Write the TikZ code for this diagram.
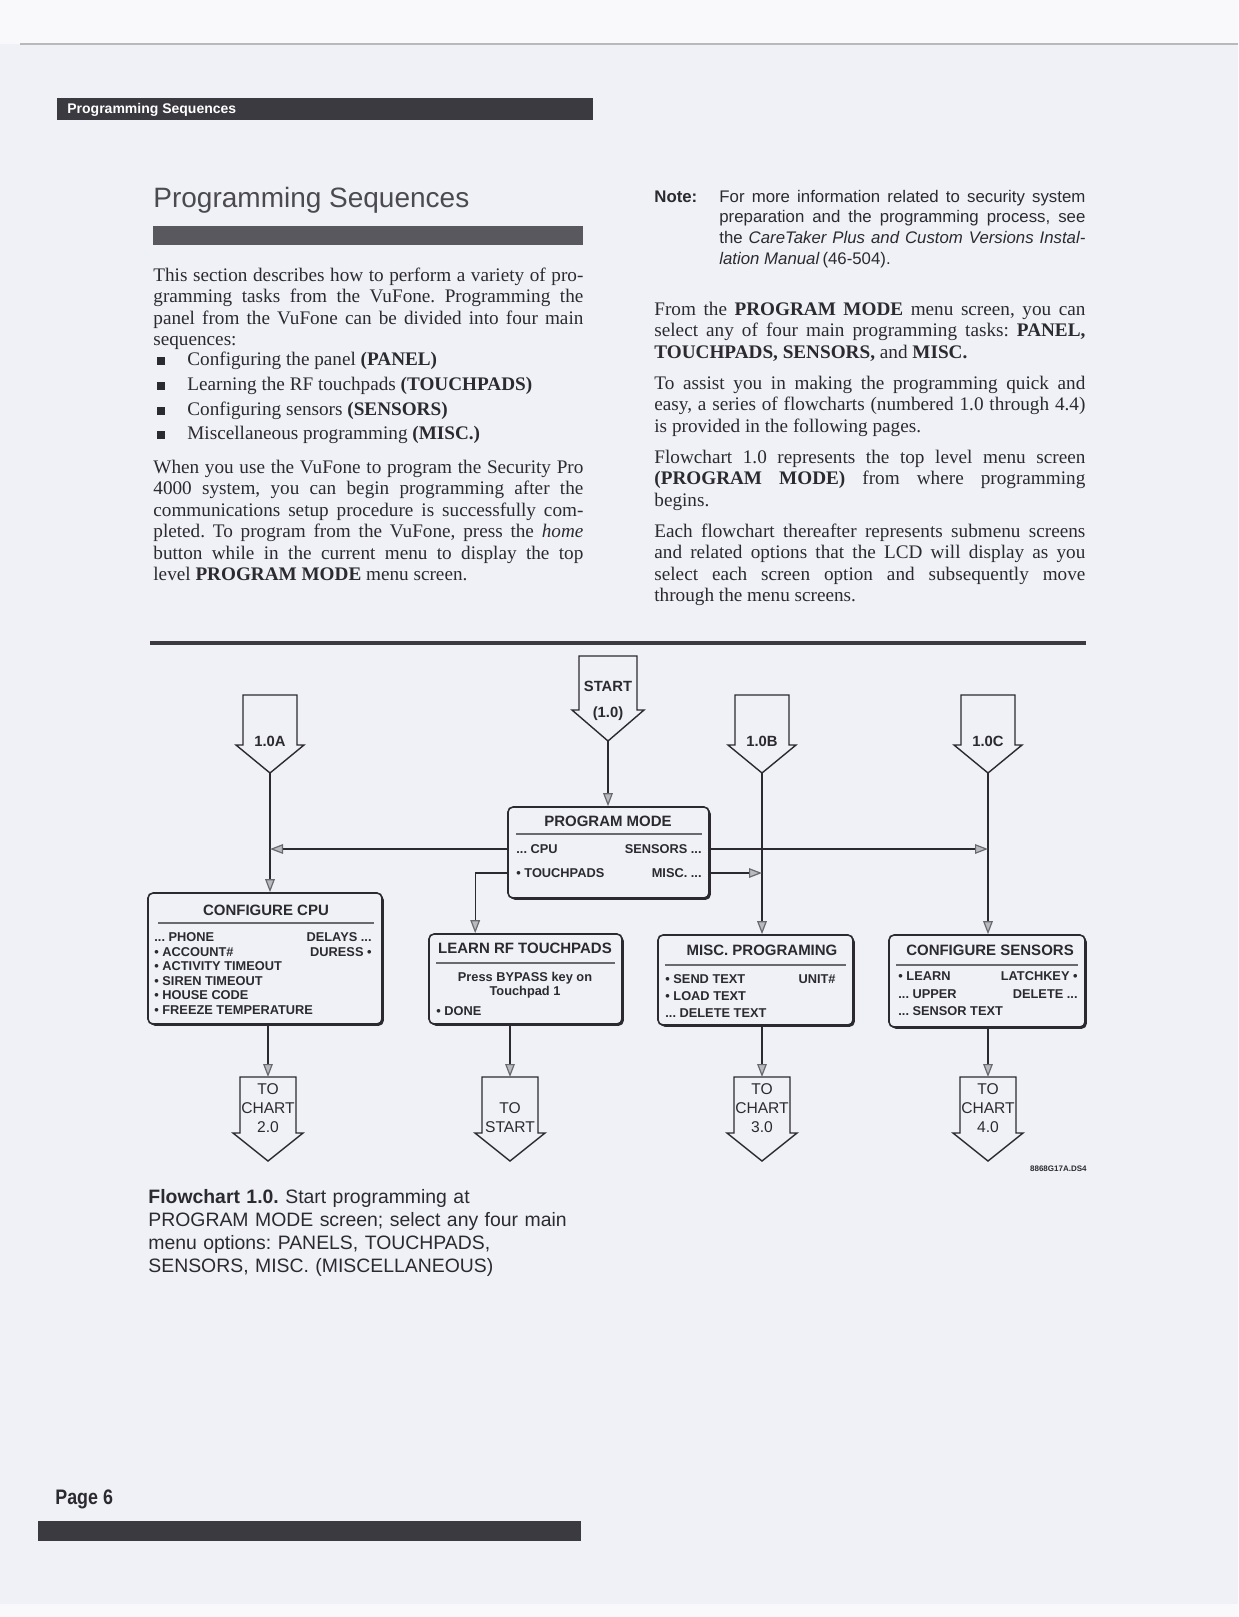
\documentclass[tikz,border=0pt]{standalone}
\usepackage{fontspec}
\setmainfont{Liberation Serif}
\setsansfont{Liberation Sans}
\newfontfamily\condsans[FakeStretch=0.85]{Liberation Sans}
\usetikzlibrary{arrows.meta,calc,shadows}
\definecolor{paper}{RGB}{240,241,246}
\definecolor{paperhi}{RGB}{249,249,251}
\definecolor{ink}{RGB}{42,42,48}
\definecolor{barc}{RGB}{58,58,64}
\definecolor{titlebar}{RGB}{88,88,94}
\definecolor{agray}{RGB}{105,105,112}
\definecolor{afill}{RGB}{185,185,192}
\tolerance=9999 \linepenalty=1000 \hyphenpenalty=10000
\frenchspacing
\newcommand{\fchev}[7]{%
  \coordinate (#1-top) at (#2,#4);
  \coordinate (#1-tip) at (#2,#6);
  \draw[chev] ({#2-#3},#4) -- ({#2-#3},#5) -- ({#2-#3-#7},#5) -- (#1-tip) -- ({#2+#3+#7},#5) -- ({#2+#3},#5) -- ({#2+#3},#4) -- cycle;
}
\begin{document}
\frenchspacing
\begin{tikzpicture}[x=0.5pt,y=-0.5pt,
  body/.style={anchor=base west, inner sep=0pt, text width=#1, align=justify, text=ink, font=\fontsize{9.6}{10.75}\selectfont},
  bodyl/.style={anchor=base west, inner sep=0pt, text=ink, font=\fontsize{9.6}{10.75}\selectfont},
  notep/.style={anchor=base west, inner sep=0pt, text width=#1, align=justify, text=ink, font=\sffamily\fontsize{8.4}{10.35}\selectfont},
  sq/.style={fill=ink, minimum size=4pt, inner sep=0pt},
  box/.style={draw=ink, line width=0.8pt, rounded corners=2.5pt, fill=paper, inner sep=0pt,
    drop shadow={shadow xshift=0.9pt, shadow yshift=-0.9pt, fill=ink, opacity=1}},
  ttl/.style={font=\sffamily\bfseries\fontsize{7.5}{8}\selectfont, text=ink, inner sep=0pt, text height=5.4pt, text depth=0pt},
  itm/.style={font=\sffamily\bfseries\fontsize{6.4}{7}\selectfont, text=ink, inner sep=0pt, text height=4.6pt, text depth=0pt},
  uline/.style={draw=agray, line width=0.6pt},
  chev/.style={draw=ink, line width=0.7pt, fill=paper},
  clbl/.style={font=\sffamily\bfseries\fontsize{7.4}{8}\selectfont, text=ink, inner sep=0pt, text height=5.3pt, text depth=0pt},
  tlbl/.style={font=\sffamily\fontsize{7.8}{8}\selectfont, text=ink, inner sep=0pt, text height=5.6pt, text depth=0pt},
  conn/.style={draw=ink, line width=0.7pt},
  arr/.style={conn, -{Triangle[length=6.5pt, width=4.8pt, fill=afill, color=agray, line width=0.6pt]}}
]
\useasboundingbox (0,0) rectangle (1238,1617);
% page
\fill[paper] (0,0) rectangle (1238,1617);
\fill[paperhi] (0,0) rectangle (1238,44);
\draw[gray!55, line width=0.6pt] (20,44) -- (1238,44);
\fill[paperhi] (0,1604) rectangle (1238,1617);

% header bar
\fill[barc] (57,98) rectangle (593,120);
\node[anchor=base west, inner sep=0pt, font=\sffamily\bfseries\fontsize{7}{8}\selectfont, text=white] (hdr) at (67,113.5) {Programming Sequences};

% title
\node[anchor=base west, inner sep=0pt, font=\sffamily\fontsize{14}{16}\selectfont, text=ink!85] (title) at (153,207) {Programming Sequences};
\fill[titlebar] (153,226) rectangle (583,245);

% left column
\node[body=215pt] (lp1) at (153,281) {This section describes how to perform a variety of pro-\linebreak gramming tasks from the VuFone. Programming the\linebreak panel from the VuFone can be divided into four main\linebreak sequences:};
\node[sq] (q1) at (161,360.5) {};
\node[sq] (q2) at (161,385.5) {};
\node[sq] (q3) at (161,410.5) {};
\node[sq] (q4) at (161,434.5) {};
\node[bodyl] (b1) at (187,365) {Configuring the panel \textbf{(PANEL)}};
\node[bodyl] (b2) at (187,390) {Learning the RF touchpads \textbf{(TOUCHPADS)}};
\node[bodyl] (b3) at (187,415) {Configuring sensors \textbf{(SENSORS)}};
\node[bodyl] (b4) at (187,439) {Miscellaneous programming \textbf{(MISC.)}};
\node[body=215pt] (lp2) at (153,473) {When you use the VuFone to program the Security Pro\linebreak 4000 system, you can begin programming after the\linebreak communications setup procedure is successfully com-\linebreak pleted. To program from the VuFone, press the \textit{home}\linebreak button while in the current menu to display the top\linebreak level \textbf{PROGRAM MODE} menu screen.};

% right column
\node[anchor=base west, inner sep=0pt, font=\sffamily\bfseries\fontsize{8.4}{10}\selectfont, text=ink] (notelbl) at (654,202) {Note:};
\node[notep=183pt] (note) at (719,202) {For more information related to security system\linebreak preparation and the programming process, see\linebreak the \textit{CareTaker Plus and Custom Versions Instal-}\linebreak \textit{lation Manual}\,(46-504).};
\node[body=215.5pt] (rp1) at (654,315) {From the \textbf{PROGRAM MODE} menu screen, you can\linebreak select any of four main programming tasks: \textbf{PANEL,}\linebreak \textbf{TOUCHPADS, SENSORS,} and \textbf{MISC.}};
\node[body=215.5pt] (rp2) at (654,389) {To assist you in making the programming quick and\linebreak easy, a series of flowcharts (numbered 1.0 through 4.4)\linebreak is provided in the following pages.};
\node[body=215.5pt] (rp3) at (654,463) {Flowchart 1.0 represents the top level menu screen\linebreak \textbf{(PROGRAM MODE)} from where programming\linebreak begins.};
\node[body=215.5pt] (rp4) at (654,537) {Each flowchart thereafter represents submenu screens\linebreak and related options that the LCD will display as you\linebreak select each screen option and subsequently move\linebreak through the menu screens.};

% rule above flowchart
\fill[barc] (150,641) rectangle (1086,645);

% chevrons
\fchev{st}{608}{29}{656}{710}{741}{7}
\fchev{a}{270}{27}{695}{745}{773}{7}
\fchev{b}{762}{27}{695}{745}{773}{7}
\fchev{c}{988}{27}{695}{745}{773}{7}
\fchev{t2}{268}{28}{1077}{1133}{1161}{7}
\fchev{ts}{510}{28}{1077}{1133}{1161}{7}
\fchev{t3}{762}{28}{1077}{1133}{1161}{7}
\fchev{t4}{988}{28}{1077}{1133}{1161}{7}
\node[clbl] (stl1) at (608,686) {START};
\node[clbl] (stl2) at (608,712) {(1.0)};
\node[clbl] (al) at (270,741) {1.0A};
\node[clbl] (bl) at (762,741) {1.0B};
\node[clbl] (cl) at (988,741) {1.0C};
\node[tlbl] (t2a) at (268,1089) {TO};
\node[tlbl] (t2b) at (268,1108) {CHART};
\node[tlbl] (t2c) at (268,1127) {2.0};
\node[tlbl] (tsa) at (510,1108) {TO};
\node[tlbl] (tsb) at (510,1127) {START};
\node[tlbl] (t3a) at (762,1089) {TO};
\node[tlbl] (t3b) at (762,1108) {CHART};
\node[tlbl] (t3c) at (762,1127) {3.0};
\node[tlbl] (t4a) at (988,1089) {TO};
\node[tlbl] (t4b) at (988,1108) {CHART};
\node[tlbl] (t4c) at (988,1127) {4.0};

% boxes
\node[box, minimum width=100.5pt, minimum height=45.5pt] (pm) at (608.5,852.5) {};
\node[box, minimum width=117pt, minimum height=65.5pt] (cpu) at (265,958.5) {};
\node[box, minimum width=96.5pt, minimum height=45pt] (lrf) at (525.5,979) {};
\node[box, minimum width=97.5pt, minimum height=45pt] (misc) at (755.5,980) {};
\node[box, minimum width=98pt, minimum height=46pt] (sens) at (987,981) {};

% PROGRAM MODE
\node[ttl] (pmt) at (608,821) {PROGRAM MODE};
\draw[uline] (516,834) -- (702,834);
\node[itm, anchor=west] (pcpu) at (516,849) {... CPU};
\node[itm, anchor=east] (psens) at (702,849) {SENSORS ...};
\node[itm, anchor=west] (ptouch) at (516,873) {• TOUCHPADS};
\node[itm, anchor=east] (pmisc) at (702,873) {MISC. ...};

% CONFIGURE CPU
\node[ttl] (cput) at (266,910) {CONFIGURE CPU};
\draw[uline] (158,923) -- (374,923);
\node[itm, anchor=west] (c1) at (154,937) {... PHONE};
\node[itm, anchor=west] (c2) at (154,951.5) {• ACCOUNT\#};
\node[itm, anchor=west] (c3) at (154,966) {• ACTIVITY TIMEOUT};
\node[itm, anchor=west] (c4) at (154,980.5) {• SIREN TIMEOUT};
\node[itm, anchor=west] (c5) at (154,995) {• HOUSE CODE};
\node[itm, anchor=west] (c6) at (154,1009.5) {• FREEZE TEMPERATURE};
\node[itm, anchor=east] (c7) at (372,937) {DELAYS ...};
\node[itm, anchor=east] (c8) at (372,951.5) {DURESS •};

% LEARN RF TOUCHPADS
\node[ttl] (lrft) at (525,948) {LEARN RF TOUCHPADS};
\draw[uline] (436,963) -- (615,963);
\node[itm] (l1) at (525,977) {Press BYPASS key on};
\node[itm] (l2) at (525,991) {Touchpad 1};
\node[itm, anchor=west] (l3) at (436,1011) {• DONE};

% MISC. PROGRAMING
\node[ttl] (misct) at (762,950) {MISC. PROGRAMING};
\draw[uline] (665,965) -- (846,965);
\node[itm, anchor=west] (m1) at (665,979) {• SEND TEXT};
\node[itm, anchor=east] (m2) at (836,979) {UNIT\#};
\node[itm, anchor=west] (m3) at (665,996) {• LOAD TEXT};
\node[itm, anchor=west] (m4) at (665,1013) {... DELETE TEXT};

% CONFIGURE SENSORS
\node[ttl] (senst) at (990,950) {CONFIGURE SENSORS};
\draw[uline] (896,965) -- (1078,965);
\node[itm, anchor=west] (s1) at (898,976) {• LEARN};
\node[itm, anchor=east] (s2) at (1078,976) {LATCHKEY •};
\node[itm, anchor=west] (s3) at (898,994) {... UPPER};
\node[itm, anchor=east] (s4) at (1078,994) {DELETE ...};
\node[itm, anchor=west] (s5) at (898,1011) {... SENSOR TEXT};

% connectors
\draw[arr] (st-tip) -- (st-tip |- pm.north);
\draw[arr] (a-tip) -- (a-tip |- cpu.north);
\draw[arr] (b-tip) -- (b-tip |- misc.north);
\draw[arr] (c-tip) -- (c-tip |- sens.north);
\draw[arr] (pm.west |- pcpu) -- (a-tip |- pcpu);
\draw[arr] (pm.east |- psens) -- (c-tip |- psens);
\draw[arr] (pm.east |- pmisc) -- (b-tip |- pmisc);
\draw[arr] (pm.west |- ptouch) -| ([xshift=23.5pt]lrf.north west);
\draw[arr] (t2-top |- cpu.south) -- (t2-top);
\draw[arr] (ts-top |- lrf.south) -- (ts-top);
\draw[arr] (t3-top |- misc.south) -- (t3-top);
\draw[arr] (t4-top |- sens.south) -- (t4-top);

\node[anchor=east, inner sep=0pt, font=\sffamily\bfseries\fontsize{4}{5}\selectfont, text=ink] (code) at (1087,1169) {8868G17A.DS4};

% caption
\node[anchor=base west, inner sep=0pt, text width=230pt, align=left, text=ink, font=\sffamily\fontsize{9.7}{11.5}\selectfont] (cap) at (148,1203) {\textbf{Flowchart 1.0.} Start programming at\\ PROGRAM MODE screen; select any four main\\ menu options: PANELS, TOUCHPADS,\\ SENSORS, MISC. (MISCELLANEOUS)};

% footer
\node[anchor=base west, inner sep=0pt, font=\condsans\bfseries\fontsize{10.5}{12}\selectfont, text=ink] (pg) at (55,1504) {Page 6};
\fill[barc] (38,1521) rectangle (581,1541);
\end{tikzpicture}
\end{document}
